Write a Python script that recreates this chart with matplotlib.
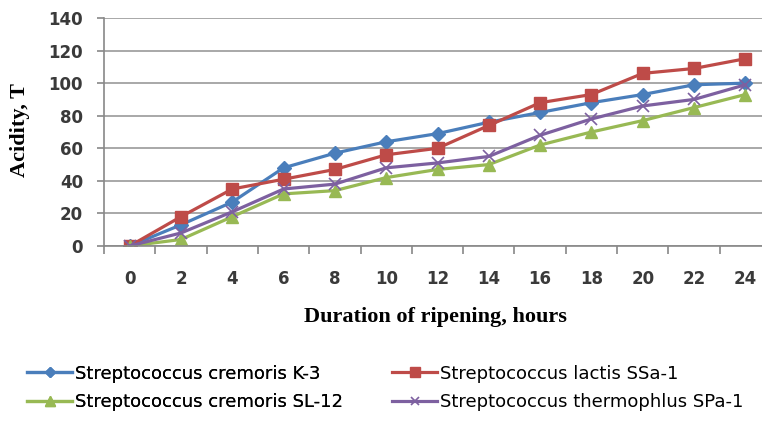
import numpy as np
import matplotlib.pyplot as plt

hours = ["0", "2", "4", "6", "8", "10", "12", "14", "16", "18", "20", "22", "24"]
k3 = [0, 13, 27, 48, 57, 64, 69, 76, 82, 88, 93, 99, 100]
ssa1 = [0, 18, 35, 41, 47, 56, 60, 74, 88, 93, 106, 109, 115]
sl12 = [0, 4, 18, 32, 34, 42, 47, 50, 62, 70, 77, 85, 93]
spa1 = [0, 8, 21, 35, 38, 48, 51, 55, 68, 78, 86, 90, 99]

names = ["Streptococcus cremoris K-3", "Streptococcus lactis SSa-1",
         "Streptococcus cremoris SL-12", "Streptococcus thermophlus SPa-1"]

fig = plt.figure(figsize=(7.62, 4.21), dpi=100)
ax = fig.add_axes([104/762, 175/421, 667/762, 228/421])

x = np.arange(len(hours))
l1, = ax.plot(x, k3, color="#4A7EBB", lw=2.3, marker="D", ms=7, label=names[0])
l2, = ax.plot(x, ssa1, color="#BE4B48", lw=2.3, marker="s", ms=9, label=names[1])
l3, = ax.plot(x, sl12, color="#98B954", lw=2.3, marker="^", ms=9, label=names[2])
l4, = ax.plot(x, spa1, color="#7D60A0", lw=2.3, marker="x", ms=8, mew=1.2, label=names[3])

ax.set_xlim(-0.5, len(hours) - 0.5)
ax.set_ylim(0, 140)
ax.set_yticks(range(0, 141, 20))
ax.set_xticks(x)
ax.set_xticklabels(hours)
ax.set_xticks(np.arange(-0.5, len(hours), 1), minor=True)
ax.tick_params(axis="x", which="major", length=0, pad=17)
ax.tick_params(axis="x", which="minor", length=5.5, color="#888888", width=1.2)
ax.tick_params(axis="y", length=5, color="#888888", width=1.2, pad=10)
for lab in ax.get_xticklabels() + ax.get_yticklabels():
    lab.set_fontsize(12)
    lab.set_fontweight("bold")
    lab.set_color("#3a3a3a")

ax.grid(axis="y", color="#999999", lw=1.2)
ax.set_axisbelow(True)
for s in ["top", "right"]:
    ax.spines[s].set_visible(False)
for s in ["left", "bottom"]:
    ax.spines[s].set_color("#888888")
    ax.spines[s].set_linewidth(1.2)

fig.text(435/762, 1 - 317/421, "Duration of ripening, hours", ha="center", va="center",
         family="Liberation Serif", fontweight="bold", fontsize=16)
fig.text(20/762, 1 - 130/421, "Acidity, T", ha="center", va="center", rotation=90,
         family="Liberation Serif", fontweight="bold", fontsize=16)

leg_kw = dict(loc="center left", frameon=False, fontsize=13, handlelength=2.5,
              handletextpad=0.17, labelspacing=0.58, borderpad=0, borderaxespad=0,
              markerscale=0.8)
leg1 = fig.legend([l1, l3], [names[0], names[2]],
                  bbox_to_anchor=(27/762, 1 - 388/421), **leg_kw)
fig.add_artist(leg1)
fig.legend([l2, l4], [names[1], names[3]],
           bbox_to_anchor=(392/762, 1 - 388/421), **leg_kw)

fig.savefig("out.png", dpi=100)
